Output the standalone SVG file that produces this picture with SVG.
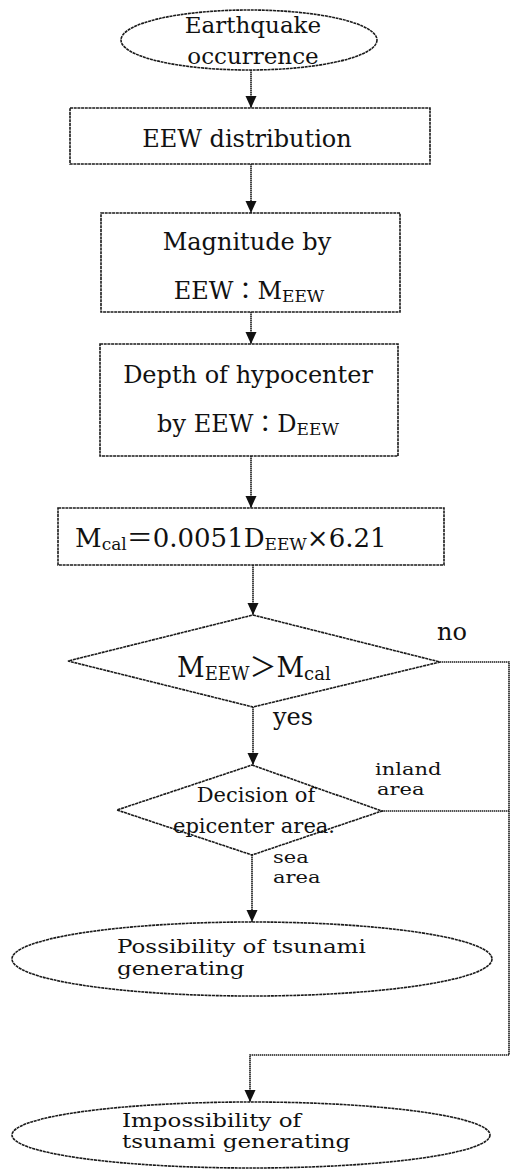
<svg xmlns="http://www.w3.org/2000/svg" width="510" height="1171" viewBox="0 0 510 1171">
<style>
.sh{fill:#fff;stroke:#1a1a1a;stroke-width:1.6;stroke-dasharray:3 0.7}
.cn{fill:none;stroke:#1a1a1a;stroke-width:1.6;stroke-dasharray:1.4 0.6}
text{font-family:"DejaVu Serif","Noto Sans CJK JP",serif;fill:#111}
.t{font-size:23px;text-anchor:middle}
.b{font-size:23px}
.l{font-size:21px}
.sub{font-size:17px}
</style>
<defs>
<marker id="ah" markerUnits="userSpaceOnUse" markerWidth="13" markerHeight="12" refX="12" refY="6" orient="auto">
<path d="M0,0.5 L12,6 L0,11.5 z" fill="#111"/>
</marker>
</defs>
<g id="connectors">
<line class="cn" x1="251" y1="70" x2="251" y2="108" marker-end="url(#ah)"/>
<line class="cn" x1="251" y1="164" x2="251" y2="213" marker-end="url(#ah)"/>
<line class="cn" x1="251" y1="312" x2="251" y2="344" marker-end="url(#ah)"/>
<line class="cn" x1="251" y1="456" x2="251" y2="508" marker-end="url(#ah)"/>
<line class="cn" x1="253" y1="565" x2="253" y2="615" marker-end="url(#ah)"/>
<line class="cn" x1="253" y1="707" x2="253" y2="765" marker-end="url(#ah)"/>
<line class="cn" x1="252" y1="855" x2="252" y2="922" marker-end="url(#ah)"/>
<polyline class="cn" points="440,662 509,662 509,1055 250,1055 250,1102" marker-end="url(#ah)"/>
<line class="cn" x1="382" y1="811" x2="509" y2="811"/>
<text class="b" x="437" y="640" style="font-size:24px">no</text>
<text class="b" x="273" y="725" style="font-size:24px">yes</text>
<text class="l" transform="translate(375,775) scale(1,0.82)">inland</text>
<text class="l" transform="translate(377,795) scale(1,0.82)">area</text>
<text class="l" transform="translate(273,863) scale(1,0.82)">sea</text>
<text class="l" transform="translate(273,883) scale(1,0.82)">area</text>
</g>
<g id="n1">
<ellipse class="sh" cx="249" cy="40" rx="128" ry="30"/>
<text class="t" x="253" y="33">Earthquake</text>
<text class="t" x="253" y="64">occurrence</text>
</g>
<g id="n2">
<rect class="sh" x="70" y="108" width="360" height="56"/>
<text class="t" x="247" y="147" style="font-size:24px">EEW distribution</text>
</g>
<g id="n3">
<rect class="sh" x="101" y="213" width="299" height="99"/>
<text class="t" x="247" y="250" style="font-size:24px">Magnitude by</text>
<text class="t" x="249" y="299" style="font-size:24px">EEW：M<tspan class="sub" dy="3">EEW</tspan></text>
</g>
<g id="n4">
<rect class="sh" x="100" y="344" width="298" height="112"/>
<text class="t" x="248" y="383" style="font-size:24px">Depth of hypocenter</text>
<text class="t" x="248" y="432" style="font-size:24px">by EEW：D<tspan class="sub" dy="3">EEW</tspan></text>
</g>
<g id="n5">
<rect class="sh" x="58" y="508" width="386" height="57"/>
<text x="75" y="547" style="font-size:26px">M<tspan class="sub" dy="3">cal</tspan><tspan dy="-3">＝0.0051D</tspan><tspan class="sub" dy="3">EEW</tspan><tspan dy="-3">×6.21</tspan></text>
</g>
<g id="n6">
<polygon class="sh" points="253,615 440,662 253,707 68,661"/>
<text x="177" y="677" style="font-size:27px">M<tspan class="sub" dy="3" style="font-size:18px">EEW</tspan><tspan dy="-3">＞M</tspan><tspan class="sub" dy="3" style="font-size:18px">cal</tspan></text>
</g>
<g id="n7">
<polygon class="sh" points="252,765 382,811 252,855 117,810"/>
<text class="t" x="256" y="802" style="font-size:21px">Decision of</text>
<text class="t" x="254" y="833" style="font-size:21px">epicenter area.</text>
</g>
<g id="n8">
<ellipse class="sh" cx="252" cy="959" rx="240" ry="37"/>
<text class="b" transform="translate(117,953) scale(1,0.8)">Possibility of tsunami</text>
<text class="b" transform="translate(117,975) scale(1,0.8)">generating</text>
</g>
<g id="n9">
<ellipse class="sh" cx="251" cy="1135" rx="239" ry="33"/>
<text class="b" transform="translate(122,1127) scale(1,0.8)">Impossibility of</text>
<text class="b" transform="translate(122,1148) scale(1,0.8)">tsunami generating</text>
</g>
</svg>
